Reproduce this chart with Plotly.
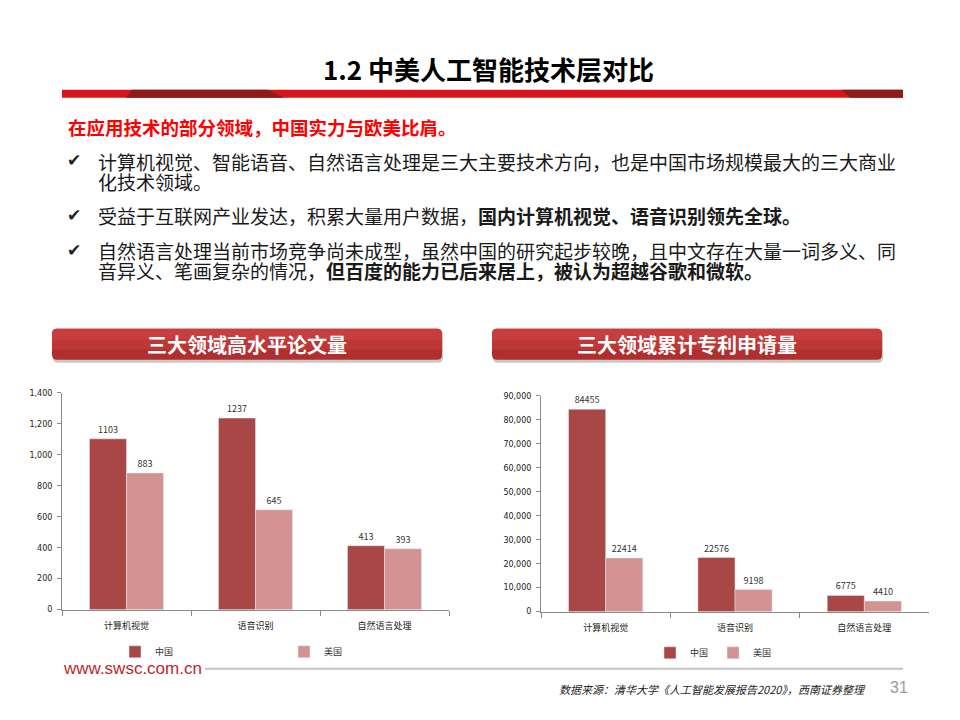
import plotly.graph_objects as go

# ---------------- data ----------------
categories = ["计算机视觉", "语音识别", "自然语言处理"]
china_papers = [1103, 1237, 413]
us_papers = [883, 645, 393]
china_patents = [84455, 22576, 6775]
us_patents = [22414, 9198, 4410]
series_names = ["中国", "美国"]
papers_ticks = [0, 200, 400, 600, 800, 1000, 1200, 1400]
patents_ticks = [0, 10000, 20000, 30000, 40000, 50000, 60000, 70000, 80000, 90000]

W, H = 960, 720
C_CN = "#A94646"
C_US = "#D39393"
CJK = "Noto Sans CJK SC"

# calibration of vertical placement (observed render offset)
Y_OFF, Y_K = 5.5, 0.984


def px(x):
    return x / W


def py(y):
    return 1 - ((y - Y_OFF) / Y_K) / H


fig = go.Figure()

fig.add_trace(go.Bar(x=categories, y=china_papers, name=series_names[0], marker_color=C_CN,
                     text=china_papers, textposition="outside", cliponaxis=False,
                     textfont=dict(size=9, color="#333"), xaxis="x", yaxis="y", legend="legend"))
fig.add_trace(go.Bar(x=categories, y=us_papers, name=series_names[1], marker_color=C_US,
                     text=us_papers, textposition="outside", cliponaxis=False,
                     textfont=dict(size=9, color="#333"), xaxis="x", yaxis="y", legend="legend"))
fig.add_trace(go.Bar(x=categories, y=china_patents, name=series_names[0], marker_color=C_CN,
                     text=china_patents, textposition="outside", cliponaxis=False,
                     textfont=dict(size=9, color="#333"), xaxis="x2", yaxis="y2", legend="legend2"))
fig.add_trace(go.Bar(x=categories, y=us_patents, name=series_names[1], marker_color=C_US,
                     text=us_patents, textposition="outside", cliponaxis=False,
                     textfont=dict(size=9, color="#333"), xaxis="x2", yaxis="y2", legend="legend2"))

axis_common_x = dict(showline=True, linecolor="#888", linewidth=1, ticks="outside", tickson="boundaries",
                     ticklen=5, tickcolor="#888", showgrid=False, ticklabelstandoff=8,
                     tickfont=dict(size=9, color="#222", family=CJK), fixedrange=True)
axis_common_y = dict(showline=True, linecolor="#888", linewidth=1, ticks="outside", ticklen=4, tickcolor="#888",
                     showgrid=False, zeroline=False, tickformat=",d", ticklabelstandoff=3,
                     tickfont=dict(size=8, color="#222", family="DejaVu Sans"))

fig.update_layout(
    width=W, height=H,
    margin=dict(l=0, r=0, t=0, b=0),
    paper_bgcolor="white", plot_bgcolor="white",
    barmode="group", bargap=0.426, bargroupgap=0,
    font=dict(family=CJK, color="#222"),
    xaxis=dict(domain=[px(62), px(449)], anchor="y", **axis_common_x),
    yaxis=dict(domain=[py(609), py(393)], anchor="x", range=[0, 1400], tickvals=papers_ticks, **axis_common_y),
    xaxis2=dict(domain=[px(541), px(929)], anchor="y2", **axis_common_x),
    yaxis2=dict(domain=[py(611), py(396)], anchor="x2", range=[0, 90000], tickvals=patents_ticks, **axis_common_y),
    legend=dict(orientation="h", x=px(115), y=py(651), xanchor="left", yanchor="middle",
                font=dict(size=9, color="#333", family=CJK), entrywidth=124, entrywidthmode="pixels",
                itemwidth=30, bgcolor="rgba(0,0,0,0)"),
    legend2=dict(orientation="h", x=px(650), y=py(652), xanchor="left", yanchor="middle",
                 font=dict(size=9, color="#333", family=CJK), itemwidth=30, bgcolor="rgba(0,0,0,0)"),
    showlegend=True,
)

shapes = []
# title red bar
shapes.append(dict(type="rect", xref="paper", yref="paper", x0=px(62), x1=px(903), y0=py(99), y1=py(91),
                   fillcolor="#D7141C", line=dict(width=0), layer="below"))


def poly(points, color):
    d = "M " + " L ".join(f"{px(x)},{py(y)}" for x, y in points) + " Z"
    return dict(type="path", xref="paper", yref="paper", path=d, fillcolor=color, line=dict(width=0), layer="below")


shapes.append(poly([(132, 91), (268, 91), (284, 99), (126, 99)], "#8E1B1B"))
shapes.append(poly([(842, 91), (903, 91), (903, 99), (850, 99)], "#8E1B1B"))


def rounded(x0, y0, x1, y1, r, color, opacity=1.0):
    X0, X1 = px(x0), px(x1)
    rx, ry = r / W, r / H
    Y0, Y1 = py(y0), py(y1)  # Y0 top (larger), Y1 bottom
    d = (f"M {X0+rx},{Y0} L {X1-rx},{Y0} Q {X1},{Y0} {X1},{Y0-ry} L {X1},{Y1+ry} Q {X1},{Y1} {X1-rx},{Y1} "
         f"L {X0+rx},{Y1} Q {X0},{Y1} {X0},{Y1+ry} L {X0},{Y0-ry} Q {X0},{Y0} {X0+rx},{Y0} Z")
    return dict(type="path", xref="paper", yref="paper", path=d, fillcolor=color, opacity=opacity,
                line=dict(width=0), layer="below")


for (bx0, bx1) in [(52, 442), (492, 882)]:
    shapes.append(rounded(bx0 + 1, 331, bx1 + 1, 363, 5, "#BBBBBB", 0.8))
    shapes.append(rounded(bx0, 329, bx1, 360, 5, "#B12E2E"))
    shapes.append(rounded(bx0, 329, bx1, 347, 5, "#C83D3D"))
    shapes.append(dict(type="rect", xref="paper", yref="paper", x0=px(bx0), x1=px(bx1), y0=py(350), y1=py(340),
                       fillcolor="#BE3737", line=dict(width=0), layer="below"))

# footer line
shapes.append(dict(type="line", xref="paper", yref="paper", x0=px(205), x1=px(903), y0=py(668), y1=py(668),
                   line=dict(color="#C4C4C4", width=2)))
fig.update_layout(shapes=shapes)

ann = []


def text(x, y, s, size, color="#1A1A1A", family=CJK, xanchor="left", **kw):
    ann.append(dict(x=px(x), y=py(y), xref="paper", yref="paper", text=s, showarrow=False, xanchor=xanchor,
                    yanchor="middle", font=dict(size=size, color=color, family=family), **kw))


text(488, 70, "<b>1.2 中美人工智能技术层对比</b>", 26, "#000", xanchor="center")
text(66, 128, "<b>在应用技术的部分领域，中国实力与欧美比肩。</b>", 18.5, "#FF0000")

for yy in [161, 216, 251]:
    text(65, yy, "✔", 17, "#222", family="DejaVu Sans")

body = 19
text(96, 162, "计算机视觉、智能语音、自然语言处理是三大主要技术方向，也是中国市场规模最大的三大商业", body)
text(96, 182, "化技术领域。", body)
text(96, 216, "受益于互联网产业发达，积累大量用户数据，<b>国内计算机视觉、语音识别领先全球。</b>", body)
text(96, 251, "自然语言处理当前市场竞争尚未成型，虽然中国的研究起步较晚，且中文存在大量一词多义、同", body)
text(96, 271, "音异义、笔画复杂的情况，<b>但百度的能力已后来居上，被认为超越谷歌和微软。</b>", body)

text(247, 345, "<b>三大领域高水平论文量</b>", 20, "#FFFFFF", xanchor="center")
text(687, 345, "<b>三大领域累计专利申请量</b>", 20, "#FFFFFF", xanchor="center")

text(61, 668, "www.swsc.com.cn", 17, "#C0272D", family="Liberation Sans")
text(868, 688, "<i>数据来源：清华大学《人工智能发展报告2020》，西南证券整理</i>", 11, "#222", xanchor="right")
text(888, 687, "31", 16, "#9A9A9A", family="Liberation Sans")

fig.update_layout(annotations=ann)

fig.write_html("out.html")
